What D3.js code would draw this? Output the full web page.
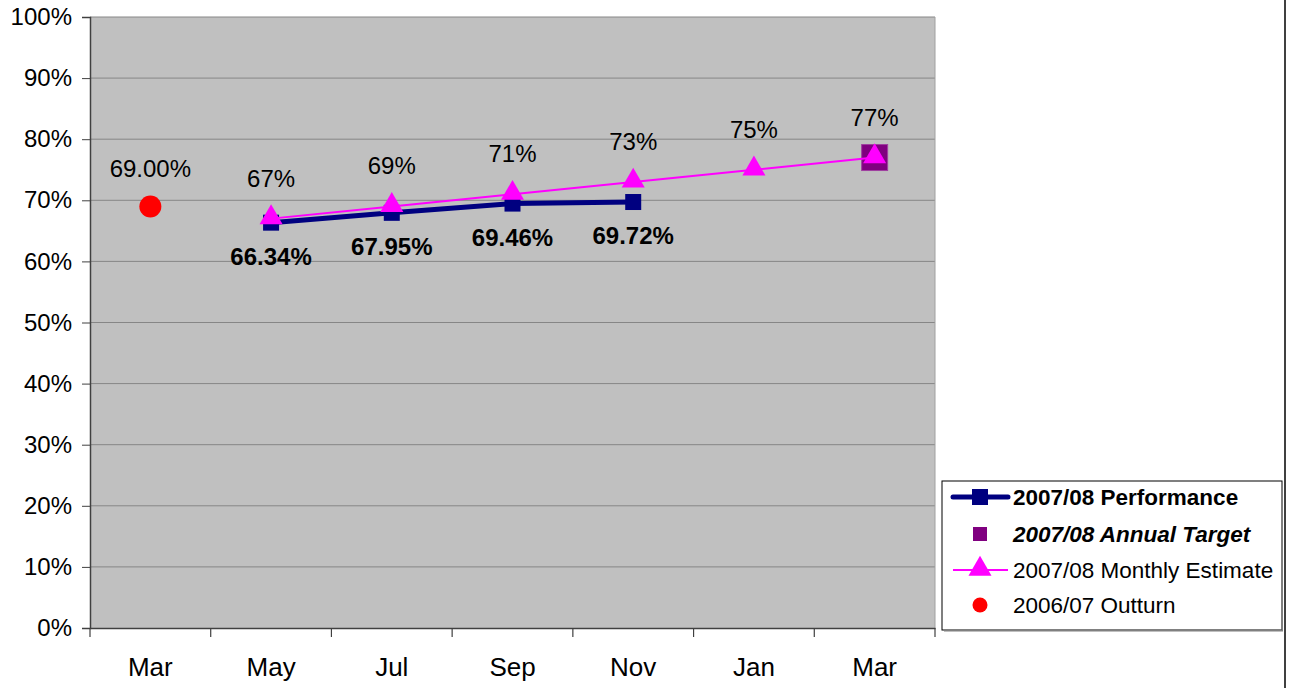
<!DOCTYPE html>
<html><head><meta charset="utf-8">
<script src="https://cdn.jsdelivr.net/npm/d3@7"></script>
<style>body{margin:0;background:#fff;}svg{display:block;font-family:"Liberation Sans",Arial,sans-serif;}</style>
</head><body>
<svg id="c" width="1293" height="688"></svg>
<script>
const categories = ["Mar0","May","Jul","Sep","Nov","Jan","Mar1"];
const categoryLabels = ["Mar","May","Jul","Sep","Nov","Jan","Mar"];
const yTicks = [0,10,20,30,40,50,60,70,80,90,100];
const performance = [{c:"May",v:66.34},{c:"Jul",v:67.95},{c:"Sep",v:69.46},{c:"Nov",v:69.72}];
const estimate = [{c:"May",v:67},{c:"Jul",v:69},{c:"Sep",v:71},{c:"Nov",v:73},{c:"Jan",v:75},{c:"Mar1",v:77}];
const target = [{c:"Mar1",v:77}];
const outturn = [{c:"Mar0",v:69}];
const legendItems = ["2007/08 Performance","2007/08 Annual Target","2007/08 Monthly Estimate","2006/07 Outturn"];

const svg = d3.select("#c");
const L=90,R=935,T=17,B=628;
const x = d3.scaleBand().domain(categories).range([L,R]);
const y = d3.scaleLinear().domain([0,100]).range([B,T]);
const cx = c => x(c)+x.bandwidth()/2;

svg.append("rect").attr("x",L).attr("y",T).attr("width",R-L).attr("height",B-T).attr("fill","#c0c0c0");
// gridlines
svg.append("g").selectAll("line").data(yTicks.filter(d=>d>0)).join("line")
  .attr("x1",L).attr("x2",R).attr("y1",d=>y(d)).attr("y2",d=>y(d))
  .attr("stroke","#868686").attr("stroke-width",1);
// right plot border
svg.append("line").attr("x1",R).attr("x2",R).attr("y1",T).attr("y2",B).attr("stroke","#a0a0a0").attr("stroke-width",1);

// y axis
const ya = svg.append("g").attr("transform",`translate(${L},0)`)
  .call(d3.axisLeft(y).tickValues(yTicks).tickFormat(d=>d+"%").tickSize(8).tickPadding(10));
ya.select(".domain").attr("stroke","#404040").attr("stroke-width",1.5);
ya.selectAll(".tick line").attr("stroke","#404040");
ya.selectAll("text").attr("font-size",24).attr("fill","#000").attr("font-family","Liberation Sans, Arial, sans-serif");

// x axis
const xa = svg.append("g").attr("transform",`translate(0,${B})`)
  .call(d3.axisBottom(x).tickSize(0).tickFormat((d,i)=>categoryLabels[i]).tickPadding(30));
xa.select(".domain").attr("stroke","#404040").attr("stroke-width",1.5);
xa.selectAll("text").attr("font-size",26).attr("fill","#000").attr("font-family","Liberation Sans, Arial, sans-serif");
const bounds = categories.map(c=>x(c)).concat([R]);
svg.append("g").selectAll("line").data(bounds).join("line")
  .attr("x1",d=>d).attr("x2",d=>d).attr("y1",B).attr("y2",B+9).attr("stroke","#404040").attr("stroke-width",1.2);

// performance line
svg.append("path").datum(performance)
  .attr("d",d3.line().x(d=>cx(d.c)).y(d=>y(d.v)))
  .attr("fill","none").attr("stroke","#000080").attr("stroke-width",5);
svg.append("g").selectAll("rect").data(performance).join("rect")
  .attr("x",d=>cx(d.c)-8).attr("y",d=>y(d.v)-8).attr("width",16).attr("height",16).attr("fill","#000080");

// target
svg.append("g").selectAll("rect").data(target).join("rect")
  .attr("x",d=>cx(d.c)-13).attr("y",d=>y(d.v)-13).attr("width",26).attr("height",26)
  .attr("fill","#800080").attr("stroke","#a040a0").attr("stroke-width",1);

// estimate line
svg.append("path").datum(estimate)
  .attr("d",d3.line().x(d=>cx(d.c)).y(d=>y(d.v)))
  .attr("fill","none").attr("stroke","#ff00ff").attr("stroke-width",2);
const tri = d3.symbol().type(d3.symbolTriangle).size(230);
svg.append("g").selectAll("path").data(estimate).join("path")
  .attr("d",tri).attr("transform",d=>`translate(${cx(d.c)},${y(d.v)-1})`).attr("fill","#ff00ff");

// outturn
svg.append("g").selectAll("circle").data(outturn).join("circle")
  .attr("cx",d=>cx(d.c)).attr("cy",d=>y(d.v)).attr("r",11).attr("fill","#ff0000");

// labels
const lab = svg.append("g").attr("font-size",24).attr("text-anchor","middle").attr("fill","#000");
lab.selectAll(".e").data(estimate).join("text").attr("class","e")
  .attr("x",d=>cx(d.c)).attr("y",d=>y(d.v)-32).text(d=>d.v+"%");
lab.selectAll(".p").data(performance).join("text").attr("class","p").attr("font-weight","bold")
  .attr("x",d=>cx(d.c)).attr("y",d=>y(d.v)+42).text(d=>d.v.toFixed(2)+"%");
lab.selectAll(".o").data(outturn).join("text").attr("class","o")
  .attr("x",d=>cx(d.c)).attr("y",d=>y(d.v)-29).text(d=>d.v.toFixed(2)+"%");

// legend
const lg = svg.append("g");
lg.append("rect").attr("x",942).attr("y",481).attr("width",340).attr("height",149)
  .attr("fill","#fff").attr("stroke","#000").attr("stroke-width",1);
lg.append("line").attr("x1",944).attr("x2",1283).attr("y1",630.5).attr("y2",630.5).attr("stroke","#808080").attr("stroke-width",2);
const rowY = [497,534,570,605];
const sx = 980;
lg.append("line").attr("x1",953).attr("x2",1008).attr("y1",rowY[0]).attr("y2",rowY[0]).attr("stroke","#000080").attr("stroke-width",5).attr("stroke-linecap","round");
lg.append("rect").attr("x",sx-8).attr("y",rowY[0]-8).attr("width",16).attr("height",16).attr("fill","#000080");
lg.append("rect").attr("x",sx-7).attr("y",rowY[1]-7).attr("width",14).attr("height",14).attr("fill","#800080");
lg.append("line").attr("x1",953).attr("x2",1008).attr("y1",rowY[2]).attr("y2",rowY[2]).attr("stroke","#ff00ff").attr("stroke-width",2);
lg.append("path").attr("d",tri).attr("transform",`translate(${sx},${rowY[2]-1})`).attr("fill","#ff00ff");
lg.append("circle").attr("cx",sx).attr("cy",rowY[3]).attr("r",7.5).attr("fill","#ff0000");
lg.selectAll("text").data(legendItems).join("text")
  .attr("x",1013).attr("y",(d,i)=>rowY[i]+8).attr("font-size",22.5).attr("fill","#000")
  .attr("font-weight",(d,i)=>i<2?"bold":"normal").attr("font-style",(d,i)=>i==1?"italic":"normal")
  .text(d=>d);

// right frame line
svg.append("line").attr("x1",1285).attr("x2",1285).attr("y1",0).attr("y2",688).attr("stroke","#000").attr("stroke-width",1.5);
</script>
</body></html>
